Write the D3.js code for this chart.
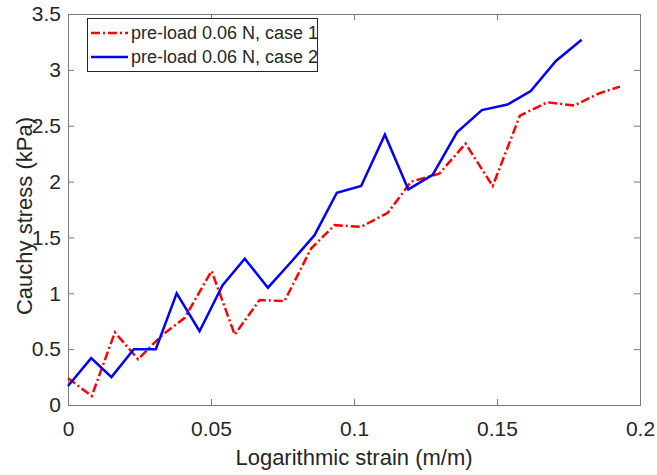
<!DOCTYPE html>
<html>
<head>
<meta charset="utf-8">
<script src="https://cdn.jsdelivr.net/npm/d3@7"></script>
<style>
  body { margin: 0; background: #fff; }
  text { font-family: "Liberation Sans", Arial, sans-serif; fill: #262626; }
</style>
</head>
<body>
<div id="chart"></div>
<script>
// data
var case1_strain = [0, 0.0083, 0.0164, 0.0245, 0.0327, 0.0408, 0.0502, 0.0583, 0.067, 0.0757, 0.085, 0.0932,
  0.1025, 0.1118, 0.12, 0.1298, 0.139, 0.1485, 0.158, 0.1676, 0.177, 0.1857, 0.193]
var case1_stress = [0.24, 0.08, 0.65, 0.41, 0.62, 0.78, 1.2, 0.63, 0.94, 0.93, 1.40, 1.61,
  1.595, 1.72, 2.0, 2.07, 2.34, 1.96, 2.59, 2.71, 2.68, 2.79, 2.85]

var case2_strain = [0, 0.0081, 0.0152, 0.023, 0.0307, 0.038, 0.046, 0.054, 0.0618, 0.0699, 0.078, 0.0862,
  0.094, 0.1025, 0.1108, 0.119, 0.1275, 0.136, 0.1447, 0.1537, 0.1618, 0.1706, 0.1796]
var case2_stress = [0.17, 0.42, 0.25, 0.50, 0.50, 1.0, 0.66, 1.07, 1.31, 1.05, 1.28, 1.52,
  1.90, 1.96, 2.42, 1.93, 2.06, 2.44, 2.64, 2.69, 2.81, 3.08, 3.27]

var series_names = ["pre-load 0.06 N, case 1", "pre-load 0.06 N, case 2"]
var x_ticks = [0, 0.05, 0.1, 0.15, 0.2]
var x_tick_labels = ["0", "0.05", "0.1", "0.15", "0.2"]
var y_ticks = [0, 0.5, 1, 1.5, 2, 2.5, 3, 3.5]
var y_tick_labels = ["0", "0.5", "1", "1.5", "2", "2.5", "3", "3.5"]

var WD = 657, HT = 475
var margin = { left: 68, right: 17, top: 14, bottom: 70 }
var width = WD - margin.left - margin.right
var height = HT - margin.top - margin.bottom

var svg = d3.select("#chart").append("svg")
    .attr("width", WD)
    .attr("height", HT)

var g = svg.append("g")
    .attr("transform", "translate(" + margin.left + "," + margin.top + ")")

var x = d3.scaleLinear().domain([0, 0.2]).range([0, width])
var y = d3.scaleLinear().domain([0, 3.5]).range([height, 0])

var axisColor = "#7a7a7a"
var tickLen = 6

// axes: ticks inside, box on
g.append("g").attr("transform", "translate(0," + height + ")")
    .call(d3.axisBottom(x).tickValues(x_ticks).tickSize(-tickLen).tickPadding(16)
      .tickFormat(function(d, i) { return x_tick_labels[i] }))
g.append("g")
    .call(d3.axisTop(x).tickValues(x_ticks).tickSize(-tickLen).tickFormat(""))
g.append("g")
    .call(d3.axisLeft(y).tickValues(y_ticks).tickSize(-tickLen).tickPadding(7)
      .tickFormat(function(d, i) { return y_tick_labels[i] }))
g.append("g").attr("transform", "translate(" + width + ",0)")
    .call(d3.axisRight(y).tickValues(y_ticks).tickSize(-tickLen).tickFormat(""))

g.selectAll(".domain").attr("stroke", axisColor)
g.selectAll(".tick line").attr("stroke", axisColor)
g.selectAll(".tick text").style("font-size", "21px").attr("fill", "#262626")
  .style("font-family", "'Liberation Sans', Arial, sans-serif")

// lines
var line = d3.line()
    .x(function(d) { return x(d[0]) })
    .y(function(d) { return y(d[1]) })

var case1 = case1_strain.map(function(s, i) { return [s, case1_stress[i]] })
var case2 = case2_strain.map(function(s, i) { return [s, case2_stress[i]] })

g.append("path").datum(case1)
    .attr("d", line)
    .attr("fill", "none")
    .attr("stroke", "#ff0000")
    .attr("stroke-width", 2.5)
    .attr("stroke-dasharray", "9,3,2,3")

g.append("path").datum(case2)
    .attr("d", line)
    .attr("fill", "none")
    .attr("stroke", "#0000ff")
    .attr("stroke-width", 2.5)

// axis labels
svg.append("text")
    .attr("x", margin.left + width / 2)
    .attr("y", 465)
    .attr("text-anchor", "middle")
    .style("font-size", "22px")
    .text("Logarithmic strain (m/m)")

svg.append("text")
    .attr("transform", "translate(32,216) rotate(-90)")
    .attr("text-anchor", "middle")
    .style("font-size", "22px")
    .text("Cauchy stress (kPa)")

// legend
var legend = svg.append("g").attr("transform", "translate(87,18)")
legend.append("rect")
    .attr("x", 0.5).attr("y", 0.5)
    .attr("width", 230).attr("height", 53)
    .attr("fill", "#fff")
    .attr("stroke", "#262626")

var legendStyles = [
  { color: "#ff0000", dash: "9,3,2,3" },
  { color: "#0000ff", dash: null }
]
series_names.forEach(function(name, i) {
  var cy = 15 + i * 24
  legend.append("line")
    .attr("x1", 4).attr("x2", 41)
    .attr("y1", cy).attr("y2", cy)
    .attr("stroke", legendStyles[i].color)
    .attr("stroke-width", 2.5)
    .attr("stroke-dasharray", legendStyles[i].dash)
  legend.append("text")
    .attr("x", 44).attr("y", cy)
    .attr("dy", "0.35em")
    .style("font-size", "18px")
    .text(name)
})
</script>
</body>
</html>
